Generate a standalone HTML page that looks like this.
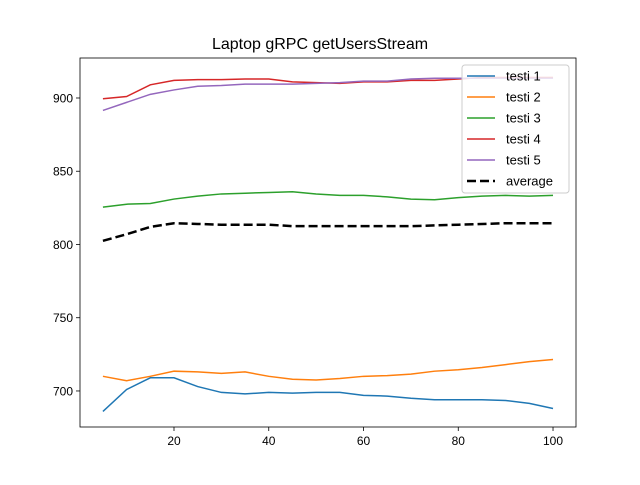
<!DOCTYPE html>
<html><head><meta charset="utf-8"><style>body{margin:0;background:#fff}svg{font-family:"Liberation Sans","DejaVu Sans",sans-serif}</style></head>
<body>
<svg id="chart" width="640" height="480" xmlns="http://www.w3.org/2000/svg"></svg>
<script>
const xs = [5,10,15,20,25,30,35,40,45,50,55,60,65,70,75,80,85,90,95,100];
const testi1 = [686,701,709,709,703,699,698,699,698.5,699,699,697,696.5,695,694,694,694,693.5,691.5,688];
const testi2 = [710,707,710,713.5,713,712,713,710,708,707.5,708.5,710,710.5,711.5,713.5,714.5,716,718,720,721.5];
const testi3 = [825.5,827.5,828,831,833,834.5,835,835.5,836,834.5,833.5,833.5,832.5,831,830.5,832,833,833.5,833,833.5];
const testi4 = [899.5,901,909,912,912.5,912.5,913,913,911,910.5,910,911,911,912,912,913,914,914,914,914];
const testi5 = [891.5,897,902.5,905.5,908,908.5,909.5,909.5,909.5,910,910.5,911.5,911.5,913,913.5,913.5,913.5,913.5,913.5,913.5];
const average = [802.5,807,812,814.5,814,813.5,813.5,813.5,812.5,812.5,812.5,812.5,812.5,812.5,813,813.5,814,814.5,814.5,814.5];
const xTicks = [20,40,60,80,100];
const yTicks = [700,750,800,850,900];
const seriesNames = ["testi 1","testi 2","testi 3","testi 4","testi 5","average"];

const NS="http://www.w3.org/2000/svg", svg=document.getElementById('chart');
const L=80,R=576,T=58,B=427, x0=0.16,x1=104.85,y0=675.4,y1=927.3;
const sx=v=>L+(v-x0)/(x1-x0)*(R-L), sy=v=>B-(v-y0)/(y1-y0)*(B-T);
function mk(t,a,p){const e=document.createElementNS(NS,t);for(const k in a)e.setAttribute(k,a[k]);(p||svg).appendChild(e);return e;}
let t=mk('text',{x:320,y:49,'text-anchor':'middle','font-size':16});t.textContent='Laptop gRPC getUsersStream';


xTicks.forEach(v=>{const g=mk('g',{});


mk('line',{x1:sx(v),x2:sx(v),y1:B,y2:B+4,stroke:'#000','stroke-width':0.8},g);
const s=mk('text',{x:sx(v),y:B+18,'text-anchor':'middle','font-size':12},g);s.textContent=v;});
yTicks.forEach(v=>{const g=mk('g',{});


mk('line',{x1:L-4,x2:L,y1:sy(v),y2:sy(v),stroke:'#000','stroke-width':0.8},g);
const s=mk('text',{x:L-7,y:sy(v)+4.5,'text-anchor':'end','font-size':12},g);s.textContent=v;});
const colors=['#1f77b4','#ff7f0e','#2ca02c','#d62728','#9467bd','#000'];
[testi1,testi2,testi3,testi4,testi5,average].forEach((d,i)=>{
const p=mk('polyline',{points:d.map((v,j)=>sx(xs[j])+','+sy(v)).join(' '),fill:'none',stroke:colors[i],'stroke-width':i==5?2.5:1.5,'stroke-dasharray':i==5?'9,4':'none'});

});
const fr=mk('rect',{x:L,y:T,width:R-L,height:B-T,fill:'none',stroke:'#000','stroke-width':0.8});


const lg=mk('g',{});


mk('rect',{x:462,y:65,width:107,height:128,rx:3,fill:'#fff','fill-opacity':0.8,stroke:'#ccc'},lg);
seriesNames.forEach((n,i)=>{const y=76+i*21;const g=mk('g',{},lg);


mk('line',{x1:467,x2:495,y1:y,y2:y,stroke:colors[i],'stroke-width':i==5?2.5:1.5,'stroke-dasharray':i==5?'9,4':'none'},g);
const s=mk('text',{x:506,y:y+4.5,'font-size':13},g);s.textContent=n;});
</script>
</body></html>
